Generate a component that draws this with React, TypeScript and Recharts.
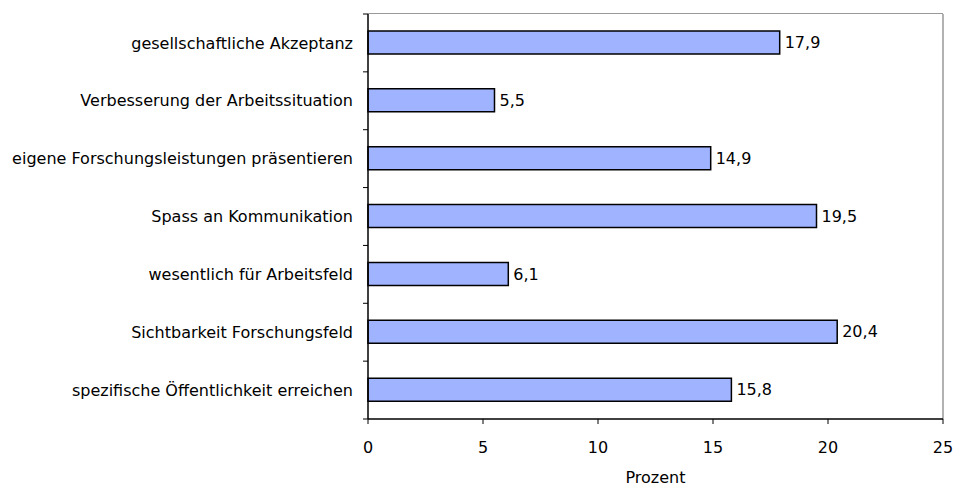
import React from "react";
import {
  BarChart,
  Bar,
  XAxis,
  YAxis,
  LabelList,
  ReferenceLine,
} from "recharts";

// categories, top to bottom
const categories = [
  "gesellschaftliche Akzeptanz",
  "Verbesserung der Arbeitssituation",
  "eigene Forschungsleistungen präsentieren",
  "Spass an Kommunikation",
  "wesentlich für Arbeitsfeld",
  "Sichtbarkeit Forschungsfeld",
  "spezifische Öffentlichkeit erreichen",
];

const percentValues = [17.9, 5.5, 14.9, 19.5, 6.1, 20.4, 15.8];

const xTicks = [0, 5, 10, 15, 20, 25];

const data = categories.map((name, i) => ({ name, value: percentValues[i] }));

const FONT = "'DejaVu Sans', Verdana, sans-serif";

// category label plus Excel-style tick marks between the categories
const CategoryTick = (props: any) => {
  const { x, y, payload, index, visibleTicksCount } = props;
  const half = payload && payload.offset ? payload.offset : 29;
  const isLast = index === (visibleTicksCount ?? categories.length) - 1;
  return (
    <g>
      <line x1={x + 4} x2={x + 9} y1={y - half} y2={y - half} stroke="#000" />
      {isLast && (
        <line x1={x + 4} x2={x + 9} y1={y + half} y2={y + half} stroke="#000" />
      )}
      <text
        x={x - 6}
        y={y}
        dy="0.35em"
        textAnchor="end"
        fill="#000"
        fontSize={16}
        fontFamily={FONT}
      >
        {payload.value}
      </text>
    </g>
  );
};

export default function App() {
  return (
    <div
      style={{
        position: "absolute",
        left: 0,
        top: 0,
        width: 953,
        height: 488,
        background: "#fff",
        overflow: "hidden",
      }}
    >
      <BarChart
        width={953}
        height={488}
        data={data}
        layout="vertical"
        margin={{ top: 14, right: 10, bottom: 4, left: 0 }}
        style={{ overflow: "visible" }}
      >
        <XAxis
          type="number"
          domain={[0, 25]}
          ticks={xTicks}
          interval={0}
          height={65}
          tickSize={5}
          tickMargin={18}
          axisLine={{ stroke: "#000", strokeWidth: 1.5 }}
          tickLine={{ stroke: "#000" }}
          tick={{ fill: "#000", fontSize: 16, fontFamily: FONT }}
          label={{
            value: "Prozent",
            position: "insideBottom",
            offset: 1,
            fill: "#000",
            fontSize: 16,
            fontFamily: FONT,
          }}
        />
        <YAxis
          type="category"
          dataKey="name"
          width={368}
          interval={0}
          tickSize={5}
          tickMargin={4}
          tickLine={false}
          axisLine={{ stroke: "#000", strokeWidth: 1.5 }}
          tick={<CategoryTick />}
        />
        <ReferenceLine x={25} stroke="#999" strokeWidth={1.5} />
        <Bar
          dataKey="value"
          fill="#9fb3ff"
          stroke="#000"
          strokeWidth={1.5}
          barSize={23}
          isAnimationActive={false}
        >
          <LabelList
            dataKey="value"
            position="right"
            offset={5}
            fill="#000"
            fontSize={16}
            fontFamily={FONT}
            formatter={(v: any) => String(v).replace(".", ",")}
          />
        </Bar>
      </BarChart>
      {/* grey top edge of the plot frame */}
      <div
        style={{
          position: "absolute",
          left: 368,
          top: 13,
          width: 575,
          height: 0,
          borderTop: "1.5px solid #999",
        }}
      />
    </div>
  );
}
